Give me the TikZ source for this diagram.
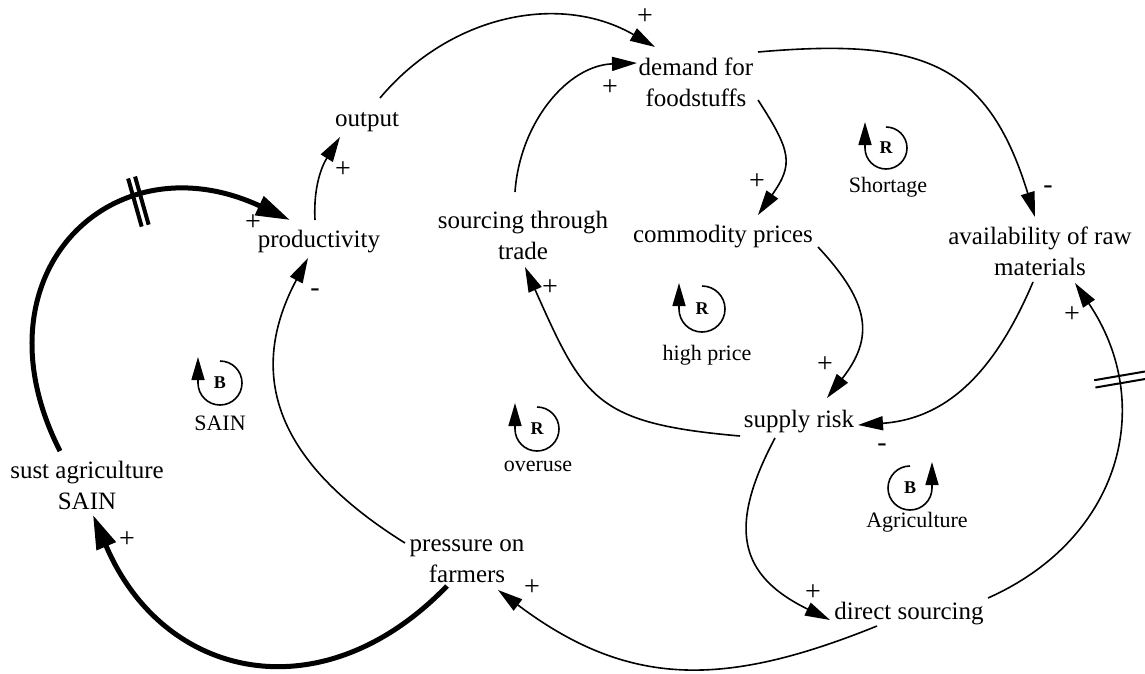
\documentclass[tikz,border=0pt]{standalone}
\usepackage{fontspec}
\setmainfont{Liberation Serif}
\usetikzlibrary{arrows.meta,decorations.markings}
\begin{document}
\begin{tikzpicture}[x=1pt,y=1pt,
  var/.style={font=\fontsize{25}{31}\selectfont, align=center, inner sep=0pt, anchor=base},
  polarity/.style={font=\fontsize{28}{30}\selectfont, inner sep=0pt},
  looplbl/.style={font=\fontsize{22}{24}\selectfont, inner sep=0pt, anchor=base},
  loopsym/.style={font=\fontsize{18}{20}\selectfont\bfseries, inner sep=0pt},
  link/.style={line width=1.6pt, -{Triangle[length=25pt,width=14pt]}},
  majorlink/.style={line width=5pt, -{Triangle[length=34pt,width=20pt]}},
  loopline/.style={line width=1.6pt, -{Triangle[length=23pt,width=13pt]}},
]
\useasboundingbox (0,0) rectangle (1145,-673);

% variables (base anchor = baseline of the last line)
\node[var] (output)   at (367,-126)  {output};
\node[var] (prod)     at (319,-247)  {productivity};
\node[var] (demand)   at (696,-106)  {demand for\\foodstuffs};
\node[var] (trade)    at (523,-259)  {sourcing through\\trade};
\node[var] (prices)   at (723,-242)  {commodity prices};
\node[var] (avail)    at (1040,-275) {availability of raw\\materials};
\node[var] (risk)     at (799,-427)  {supply risk};
\node[var] (sain)     at (87,-509)   {sust agriculture\\SAIN};
\node[var] (pressure) at (467,-582)  {pressure on\\farmers};
\node[var] (direct)   at (909,-619)  {direct sourcing};

% causal links
\draw[link] ([shift={(13,28)}]output.base) to[out=50,in=150,looseness=1] ([shift={(-41,59)}]demand.base);
\draw[link] ([shift={(-8,67)}]trade.base) to[out=86,in=182,looseness=1] ([shift={(-59,43)}]demand.base);
\draw[link] ([shift={(-4,27)}]prod.base) to[out=93,in=238,looseness=1] ([shift={(-27,-11)}]output.base);
\draw[majorlink, postaction={decorate}, decoration={markings, mark=at position 0.66 with {
    \fill[white] (-1.6,-4) rectangle (1.6,4);
    \draw[line width=4pt,-] (-3.6,-25) -- (-3.6,25) (3.6,-25) -- (3.6,25);}}]
  ([shift={(-27,58)}]sain.base) to[out=117,in=155,looseness=1.55] ([shift={(-29,27)}]prod.base);
\draw[majorlink] ([shift={(-20,-4)}]pressure.base) to[out=226,in=-67,looseness=1.27] ([shift={(6,-6)}]sain.base);
\draw[link] ([shift={(-62,39)}]pressure.base) to[out=148,in=242,looseness=1.2] ([shift={(-11,-11)}]prod.base);
\draw[link] ([shift={(-59,-9)}]risk.base) to[out=175,in=294,looseness=1.36] ([shift={(2,-8)}]trade.base);
\draw[link] ([shift={(62,6)}]demand.base) to[out=-57,in=55,looseness=1.38] ([shift={(35,27)}]prices.base);
\draw[link] ([shift={(62,54)}]demand.base) to[out=5,in=107,looseness=1.29] ([shift={(-5,58)}]avail.base);
\draw[link] ([shift={(95,-5)}]prices.base) to[out=-47,in=52,looseness=1.3] ([shift={(28,29)}]risk.base);
\draw[link] ([shift={(-7,-7)}]avail.base) to[out=247,in=4,looseness=1.05] ([shift={(59,2)}]risk.base);
\draw[link] ([shift={(-24,-11)}]risk.base) to[out=242,in=154,looseness=1.37] ([shift={(-79,-1)}]direct.base);
\draw[link, postaction={decorate}, decoration={markings, mark=at position 0.72 with {
    \draw[line width=2pt,-] (-3.7,21) -- (-3.7,-32) (3.7,21) -- (3.7,-32);}}]
  ([shift={(79,21)}]direct.base) to[out=24,in=304,looseness=1.14] ([shift={(35,-8)}]avail.base);
\draw[link] ([shift={(-32,-7)}]direct.base) to[out=202,in=323,looseness=1.1] ([shift={(31,-8)}]pressure.base);

% link polarities
\node[polarity] (s1)  at (645,-17)  {+};
\node[polarity] (s2)  at (610,-88)  {+};
\node[polarity] (s3)  at (253,-223) {+};
\node[polarity] (s4)  at (343,-170) {+};
\node[polarity] (s5)  at (315,-293) {-};
\node[polarity] (s6)  at (550,-288) {+};
\node[polarity] (s7)  at (757,-182) {+};
\node[polarity] (s8)  at (1048,-190) {-};
\node[polarity] (s9)  at (825,-365) {+};
\node[polarity] (s10) at (882,-448) {-};
\node[polarity] (s11) at (1072,-315) {+};
\node[polarity] (s12) at (813,-593) {+};
\node[polarity] (s13) at (532,-588) {+};
\node[polarity] (s14) at (127,-540) {+};

% loop identifiers
\node[loopsym] (l1) at (886,-148) {R};
\draw[loopline] ([shift={(0,21)}]l1.center) arc[start angle=90,end angle=-180,radius=21] -- ++(0,26);
\node[looplbl] (l1t) at (888,-192) {Shortage};

\node[loopsym] (l2) at (702,-309) {R};
\draw[loopline] ([shift={(0,23)}]l2.center) arc[start angle=90,end angle=-180,radius=23] -- ++(0,26);
\node[looplbl] (l2t) at (707,-360) {high price};

\node[loopsym] (l3) at (220,-383) {B};
\draw[loopline] ([shift={(0,22)}]l3.center) arc[start angle=90,end angle=-180,radius=22] -- ++(0,26);
\node[looplbl] (l3t) at (220,-430) {SAIN};

\node[loopsym] (l4) at (537,-429) {R};
\draw[loopline] ([shift={(0,22)}]l4.center) arc[start angle=90,end angle=-180,radius=22] -- ++(0,26);
\node[looplbl] (l4t) at (538,-471) {overuse};

\node[loopsym] (l5) at (910,-488) {B};
\draw[loopline] ([shift={(0,22)}]l5.center) arc[start angle=90,end angle=360,radius=22] -- ++(0,26);
\node[looplbl] (l5t) at (917,-527) {Agriculture};

\end{tikzpicture}
\end{document}
